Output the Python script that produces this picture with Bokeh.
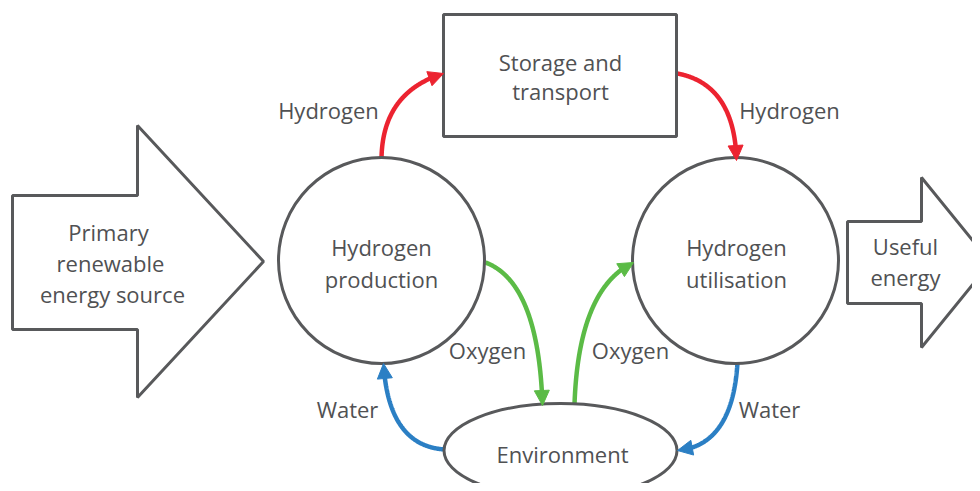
import numpy as np
from bokeh.plotting import figure
from bokeh.models import Range1d
from bokeh.core.properties import value
from bokeh.embed import file_html
from bokeh.resources import INLINE

# ---------------- diagram content ----------------
FONT = "Open Sans"
TEXT_COLOR = "#505153"
OUTLINE = "#58595b"
RED, GREEN, BLUE = "#ec2330", "#5bbb46", "#2b7fc4"

# block arrows (polygon outlines)
in_arrow_x = [12, 137, 137, 263, 137, 137, 12]
in_arrow_y = [195, 195, 125, 261, 397, 329, 329]
out_arrow_x = [847, 921, 921, 990, 921, 921, 847]
out_arrow_y = [221, 221, 177, 262, 347, 303, 303]

# box
box = dict(left=443, right=676, top=14, bottom=136)

# circles
circle_x = [381, 735]
circle_y = [260, 260]
circle_d = [206, 206]

# environment ellipse
env = dict(x=560, y=450, w=233, h=94)

# node labels (text, x, baseline y)
node_text = ["Primary", "renewable", "energy source",
             "Storage and", "transport",
             "Hydrogen", "production",
             "Hydrogen", "utilisation",
             "Useful", "energy",
             "Environment"]
node_x = [108, 110, 112, 560, 560, 381, 381, 736, 736, 905, 905, 562]
node_y = [231, 262, 293, 61, 90, 246, 278, 246, 278, 245, 276, 453]

# flow arrows: start, control, tip, colour
flow_start = [(381, 160), (677, 73), (485, 262), (574, 404), (445, 449), (737, 362)]
flow_ctrl = [(381, 92), (734, 84), (538, 282), (578, 288), (388, 446), (732, 445)]
flow_tip = [(443, 73), (736, 160), (542, 405), (633, 262), (383, 363), (677, 450)]
flow_color = [RED, RED, GREEN, GREEN, BLUE, BLUE]

# flow labels
flow_text = ["Hydrogen", "Hydrogen", "Oxygen", "Oxygen", "Water", "Water"]
flow_lx = [328, 789, 487, 630, 347, 769]
flow_ly = [109, 109, 349, 349, 408, 408]

# ---------------- figure ----------------
p = figure(width=972, height=483, output_backend="svg", toolbar_location=None,
           x_range=Range1d(0, 972), y_range=Range1d(483, 0),
           x_axis_location=None, y_axis_location=None, min_border=0)
p.grid.grid_line_color = None
p.outline_line_color = None
p.background_fill_color = "white"

HEAD_L, HEAD_W, LW = 15, 15, 4.5

heads_x, heads_y, heads_c = [], [], []
for s, c, t, col in zip(flow_start, flow_ctrl, flow_tip, flow_color):
    s, c, t = map(np.array, (s, c, t))
    tt = np.linspace(0, 1, 200)[:, None]
    pts = (1 - tt) ** 2 * s + 2 * (1 - tt) * tt * c + tt ** 2 * t
    dist = np.hypot(*(pts - t).T)
    keep = dist >= HEAD_L - 2
    shaft = pts[keep]
    p.line(shaft[:, 0], shaft[:, 1], line_color=col, line_width=LW)
    base = pts[keep][-1]
    d = t - base
    d = d / np.hypot(*d)
    bc = t - d * HEAD_L
    perp = np.array([-d[1], d[0]])
    tri = [t, bc + perp * HEAD_W / 2, bc - perp * HEAD_W / 2]
    heads_x.append([q[0] for q in tri])
    heads_y.append([q[1] for q in tri])
    heads_c.append(col)

# shapes
p.patch(in_arrow_x, in_arrow_y, fill_color="white", line_color=OUTLINE, line_width=3)
p.patch(out_arrow_x, out_arrow_y, fill_color="white", line_color=OUTLINE, line_width=3)
p.quad(left=[box["left"]], right=[box["right"]], top=[box["top"]], bottom=[box["bottom"]],
       fill_color="white", line_color=OUTLINE, line_width=3)
p.ellipse(x=circle_x, y=circle_y, width=circle_d, height=circle_d,
          fill_color="white", line_color=OUTLINE, line_width=3)
p.ellipse(x=[env["x"]], y=[env["y"]], width=[env["w"]], height=[env["h"]],
          fill_color="white", line_color=OUTLINE, line_width=3)

# arrowheads
p.patches(heads_x, heads_y, fill_color=heads_c, line_color=heads_c, line_width=1)

# texts
p.text(x=node_x, y=node_y, text=node_text, text_font=value(FONT), text_font_size="22px",
       text_color=TEXT_COLOR, text_align="center", text_baseline="alphabetic")
p.text(x=flow_lx, y=flow_ly, text=flow_text, text_font=value(FONT), text_font_size="22px",
       text_color=TEXT_COLOR, text_align="center", text_baseline="alphabetic")

open("out.html", "w").write(file_html(p, INLINE))
